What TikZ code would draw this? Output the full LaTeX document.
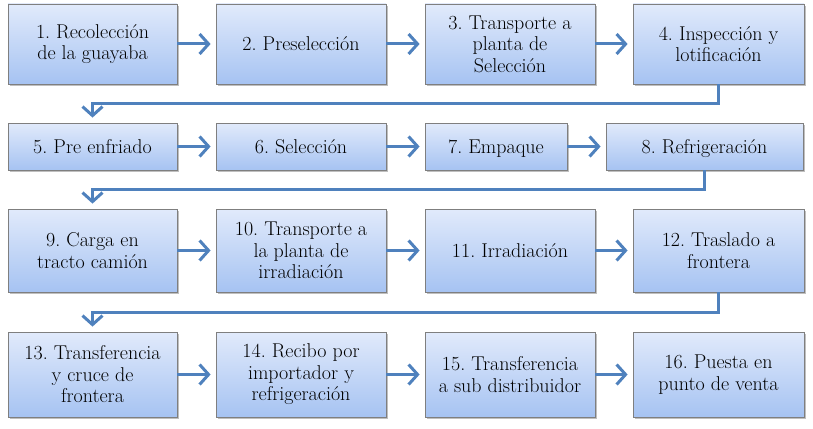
\documentclass[tikz,border=0pt]{standalone}
\usetikzlibrary{arrows.meta,shadows}
\definecolor{arr}{HTML}{4F81BD}
\definecolor{topc}{HTML}{E1EAFB}
\definecolor{botc}{HTML}{A6C3F2}
\definecolor{bord}{HTML}{7F7F7F}
\tikzset{
  boxnode/.style={draw=bord, line width=0.8pt, top color=topc, bottom color=botc,
    inner sep=0pt, align=center, font=\rmfamily\frenchspacing\fontsize{20}{21.5}\selectfont,
    drop shadow={shadow xshift=1.5pt, shadow yshift=-2pt, fill=black, opacity=0.25}},
  flow/.style={draw=arr, line width=3pt, shorten >=5pt,
    -{Straight Barb[length=9pt,width=20pt]}},
}
\newcommand{\lstr}{\vphantom{Áy}}
\begin{document}
\begin{tikzpicture}[x=1pt,y=-1pt]
\useasboundingbox (0,0) rectangle (813,428);
% row 1
\node[boxnode, minimum width=169pt, minimum height=80pt] (b1) at (92.5,44) {1. Recolección\\de la guayaba};
\node[boxnode, minimum width=170pt, minimum height=80pt] (b2) at (301,44) {2. Preselección\lstr};
\node[boxnode, minimum width=170pt, minimum height=80pt] (b3) at (510,44) {3. Transporte a\\planta de\\Selección};
\node[boxnode, minimum width=171pt, minimum height=80pt] (b4) at (718.5,44) {4. Inspección y\\lotificación};
% row 2
\node[boxnode, minimum width=169pt, minimum height=47pt] (b5) at (92.5,146.5) {5. Pre enfriado\lstr};
\node[boxnode, minimum width=170pt, minimum height=47pt] (b6) at (301,146.5) {6. Selección\lstr};
\node[boxnode, minimum width=142pt, minimum height=47pt] (b7) at (496,146.5) {7. Empaque\lstr};
\node[boxnode, minimum width=197pt, minimum height=47pt] (b8) at (704.5,146.5) {8. Refrigeración\lstr};
% row 3
\node[boxnode, minimum width=169pt, minimum height=83pt] (b9) at (92.5,250.5) {9. Carga en\\tracto camión};
\node[boxnode, minimum width=170pt, minimum height=83pt] (b10) at (301,250.5) {10. Transporte a\\la planta de\\irradiación};
\node[boxnode, minimum width=170pt, minimum height=83pt] (b11) at (510,250.5) {11. Irradiación\lstr};
\node[boxnode, minimum width=171pt, minimum height=83pt] (b12) at (718.5,250.5) {12. Traslado a\\frontera};
% row 4
\node[boxnode, minimum width=169pt, minimum height=85pt] (b13) at (92.5,374.5) {13. Transferencia\\y cruce de\\frontera};
\node[boxnode, minimum width=170pt, minimum height=85pt] (b14) at (301,374.5) {14. Recibo por\\importador y\\refrigeración};
\node[boxnode, minimum width=170pt, minimum height=85pt] (b15) at (510,374.5) {15. Transferencia\\a sub distribuidor};
\node[boxnode, minimum width=171pt, minimum height=85pt] (b16) at (718.5,374.5) {16. Puesta en\\punto de venta};
% horizontal arrows
\draw[flow] (b1) -- (b2);
\draw[flow] (b2) -- (b3);
\draw[flow] (b3) -- (b4);
\draw[flow] (b5) -- (b6);
\draw[flow] (b6) -- (b7);
\draw[flow] (b7) -- (b8);
\draw[flow] (b9) -- (b10);
\draw[flow] (b10) -- (b11);
\draw[flow] (b11) -- (b12);
\draw[flow] (b13) -- (b14);
\draw[flow] (b14) -- (b15);
\draw[flow] (b15) -- (b16);
% row connectors
\coordinate (k1) at (92.5,103.5);
\coordinate (k2) at (92.5,189.5);
\coordinate (k3) at (92.5,312);
\draw[flow] (b4.south) |- (k1) -- (b5.north);
\draw[flow] (b8.south) |- (k2) -- (b9.north);
\draw[flow] (b12.south) |- (k3) -- (b13.north);
\end{tikzpicture}
\end{document}
